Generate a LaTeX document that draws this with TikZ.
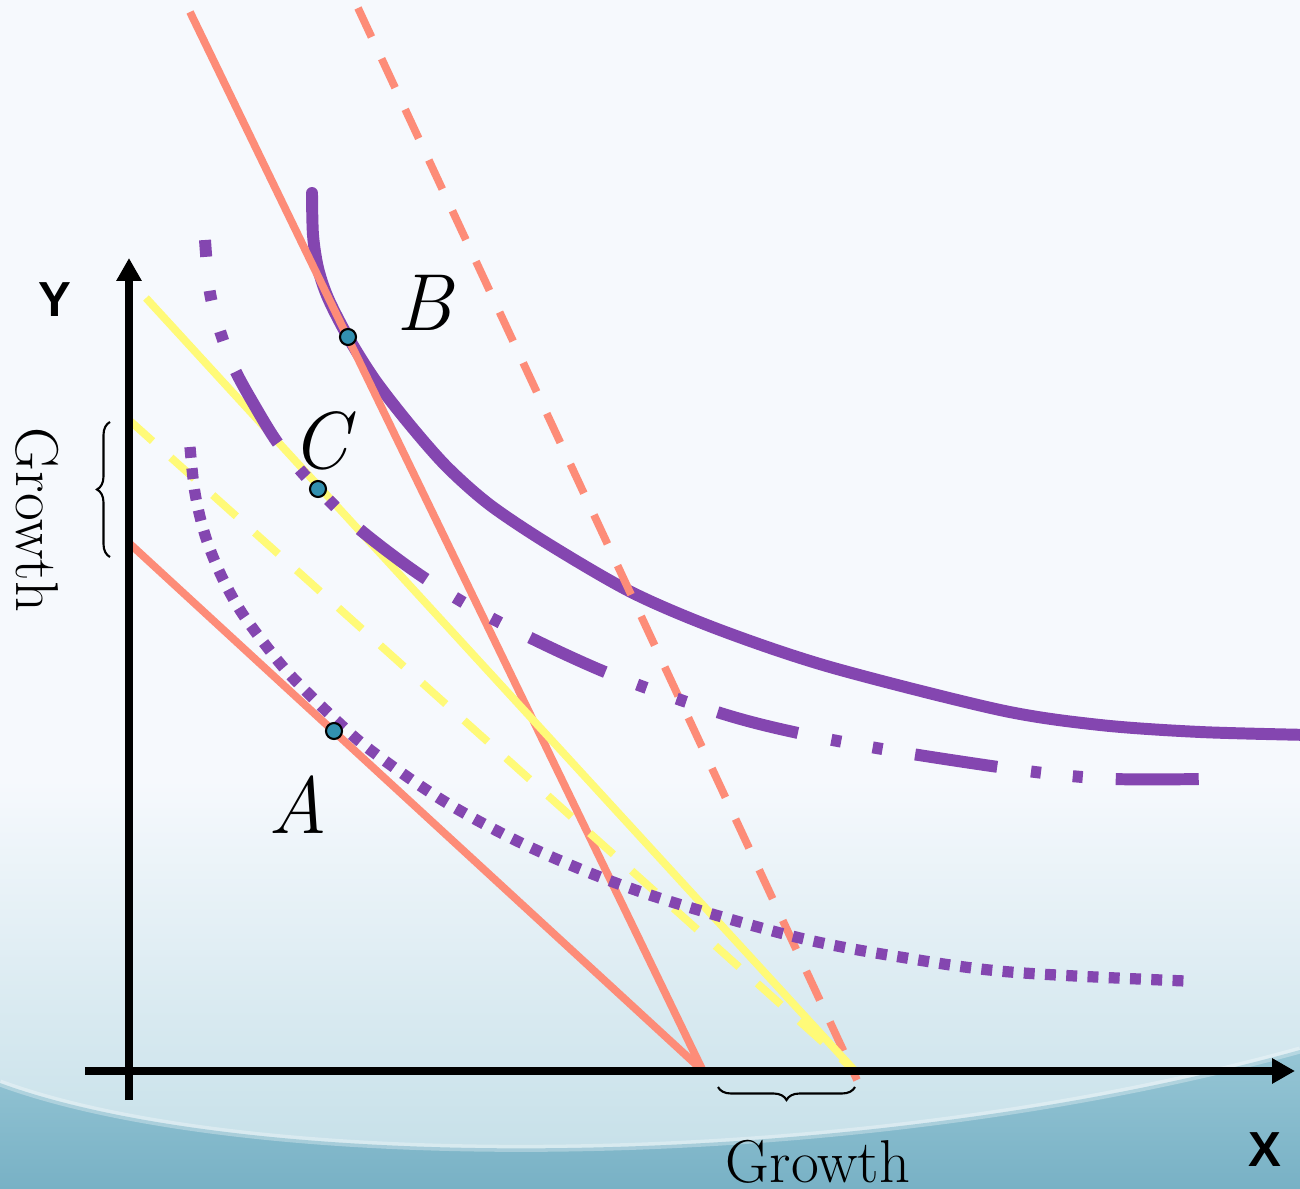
\documentclass[tikz,border=0pt]{standalone}
\usepackage{fontspec}
\newfontfamily\sansbold{Liberation Sans}
\usetikzlibrary{arrows.meta,decorations.pathreplacing}
\definecolor{bgtop}{HTML}{F6F9FD}
\definecolor{bgmid}{HTML}{C2DEE7}
\definecolor{bgwave}{HTML}{96C6D5}
\definecolor{bgdark}{HTML}{78B1C5}
\definecolor{iccol}{HTML}{8446B0}
\definecolor{salmon}{HTML}{FD8C78}
\definecolor{yel}{HTML}{FFFA78}
\definecolor{dotfill}{HTML}{3290B0}
\tikzset{
  axis/.style={line width=2.4pt, black, -{Triangle[length=6.5pt,width=6.8pt]}},
  icsolid/.style={line width=3.4pt, iccol, line cap=round},
  icdashdot/.style={line width=3.4pt, iccol, dash pattern=on 23.6pt off 9.7pt on 2.85pt off 9.1pt on 2.85pt off 9.4pt, dash phase=18.8pt},
  icdotted/.style={line width=3.2pt, iccol, dash pattern=on 3.1pt off 2.95pt},
  budget/.style={line width=2.2pt, salmon},
  budgetdash/.style={line width=2.2pt, salmon, dash pattern=on 9.1pt off 6.8pt},
  ybudget/.style={line width=2.2pt, yel},
  ybudgetdash/.style={line width=2.2pt, yel, dash pattern=on 9pt off 7pt},
  optpt/.style={circle, draw=black, line width=0.6pt, fill=dotfill, minimum size=0.16cm, inner sep=0pt},
  ptlabel/.style={font=\fontsize{23}{26}\selectfont\itshape, inner sep=0pt},
  axlabel/.style={font=\sansbold\bfseries\fontsize{14}{16}\selectfont, inner sep=0pt},
  growthlabel/.style={font=\fontsize{17.2}{19}\selectfont, inner sep=0pt},
  bracestyle/.style={decorate, decoration={brace, amplitude=3.7pt}, line width=0.6pt, black}
}
\begin{document}
\begin{tikzpicture}[x=0.01cm, y=-0.01cm]
\useasboundingbox (0,0) rectangle (1300,1189);
% background
\fill[bgtop] (0,0) rectangle (1300,1189);
\shade[top color=bgtop, bottom color=bgmid] (0,780) rectangle (1300,1189);
\shade[top color=bgwave, bottom color=bgdark] (0,1083) .. controls (250,1175) and (850,1175) .. (1300,1050) -- (1300,1189) -- (0,1189) -- cycle;
\draw[white, opacity=0.3, line width=2pt] (0,1083) .. controls (250,1175) and (850,1175) .. (1300,1050);

% coordinates
\coordinate (yb) at (129,1100);
\coordinate (yt) at (129,258);
\coordinate (xl) at (85,1071);
\coordinate (xr) at (1295,1071);
\coordinate (s1a) at (190,12);
\coordinate (s1b) at (703,1071);
\coordinate (s2a) at (129,543);
\coordinate (sdA) at (358,8);
\coordinate (sdB) at (857,1080);
\coordinate (ysA) at (146,298);
\coordinate (yE) at (855,1071);
\coordinate (ydA) at (129,420);

% indifference curve through B (solid)
\draw[icsolid] plot[smooth, tension=0.5] coordinates {(312,193) (313,235) (318,268) (328,298) (348,337) (375,380) (410,425) (447,467) (490,505) (550,545) (633,593) (720,630) (830,667) (1000,710) (1100,725) (1200,732) (1310,735)};

% salmon budget lines
\draw[budget] (s1a) -- (s1b);
\draw[budget] (s2a) -- (s1b);
\draw[budgetdash] (sdA) -- (sdB);

% yellow budget lines
\draw[ybudget] (ysA) -- (yE);
\draw[ybudgetdash] (ydA) -- (yE);

% indifference curve through C (dash-dot)
\draw[icdashdot] plot[smooth, tension=0.55] coordinates {(205,240) (210,293) (221,334) (235,370) (256,408) (277,442) (300,470) (318,489) (358,528) (423,577) (495,620) (605,672) (717,712) (798,733) (900,752) (1035,772) (1115,779) (1200,779)};

% indifference curve through A (dotted)
\draw[icdotted] plot[smooth, tension=0.55] coordinates {(190,447) (195,493) (205,535) (220,573) (240,610) (267,647) (293,678) (338,722) (373,752) (442,800) (517,841) (595,875) (675,903) (800,938) (900,957) (1010,972) (1185,981)};

% axes
\draw[axis] (yb) -- (yt);
\draw[axis] (xl) -- (xr);

% points
\node[optpt] (A) at (334,731) {};
\node[optpt] (B) at (348,337) {};
\node[optpt] (C) at (318,489) {};

% labels
\node[ptlabel] (lA) at (298,805) {A};
\node[ptlabel] (lB) at (424,303) {B};
\node[ptlabel] (lC) at (320,441) {C};
\node[axlabel] (lY) at (55,300) {Y};
\node[axlabel] (lX) at (1265,1150) {X};

% braces
\coordinate (lb1) at (110,557);
\coordinate (lb2) at (110,422);
\draw[bracestyle] (lb1) -- (lb2);
\coordinate (bb1) at (855,1087);
\coordinate (bb2) at (718,1087);
\draw[bracestyle] (bb1) -- (bb2);
\node[growthlabel, anchor=base] (gx) at (818,1182) {Growth};
\node[growthlabel, rotate=-90] (gy) at (37,520) {Growth};
\end{tikzpicture}
\end{document}
